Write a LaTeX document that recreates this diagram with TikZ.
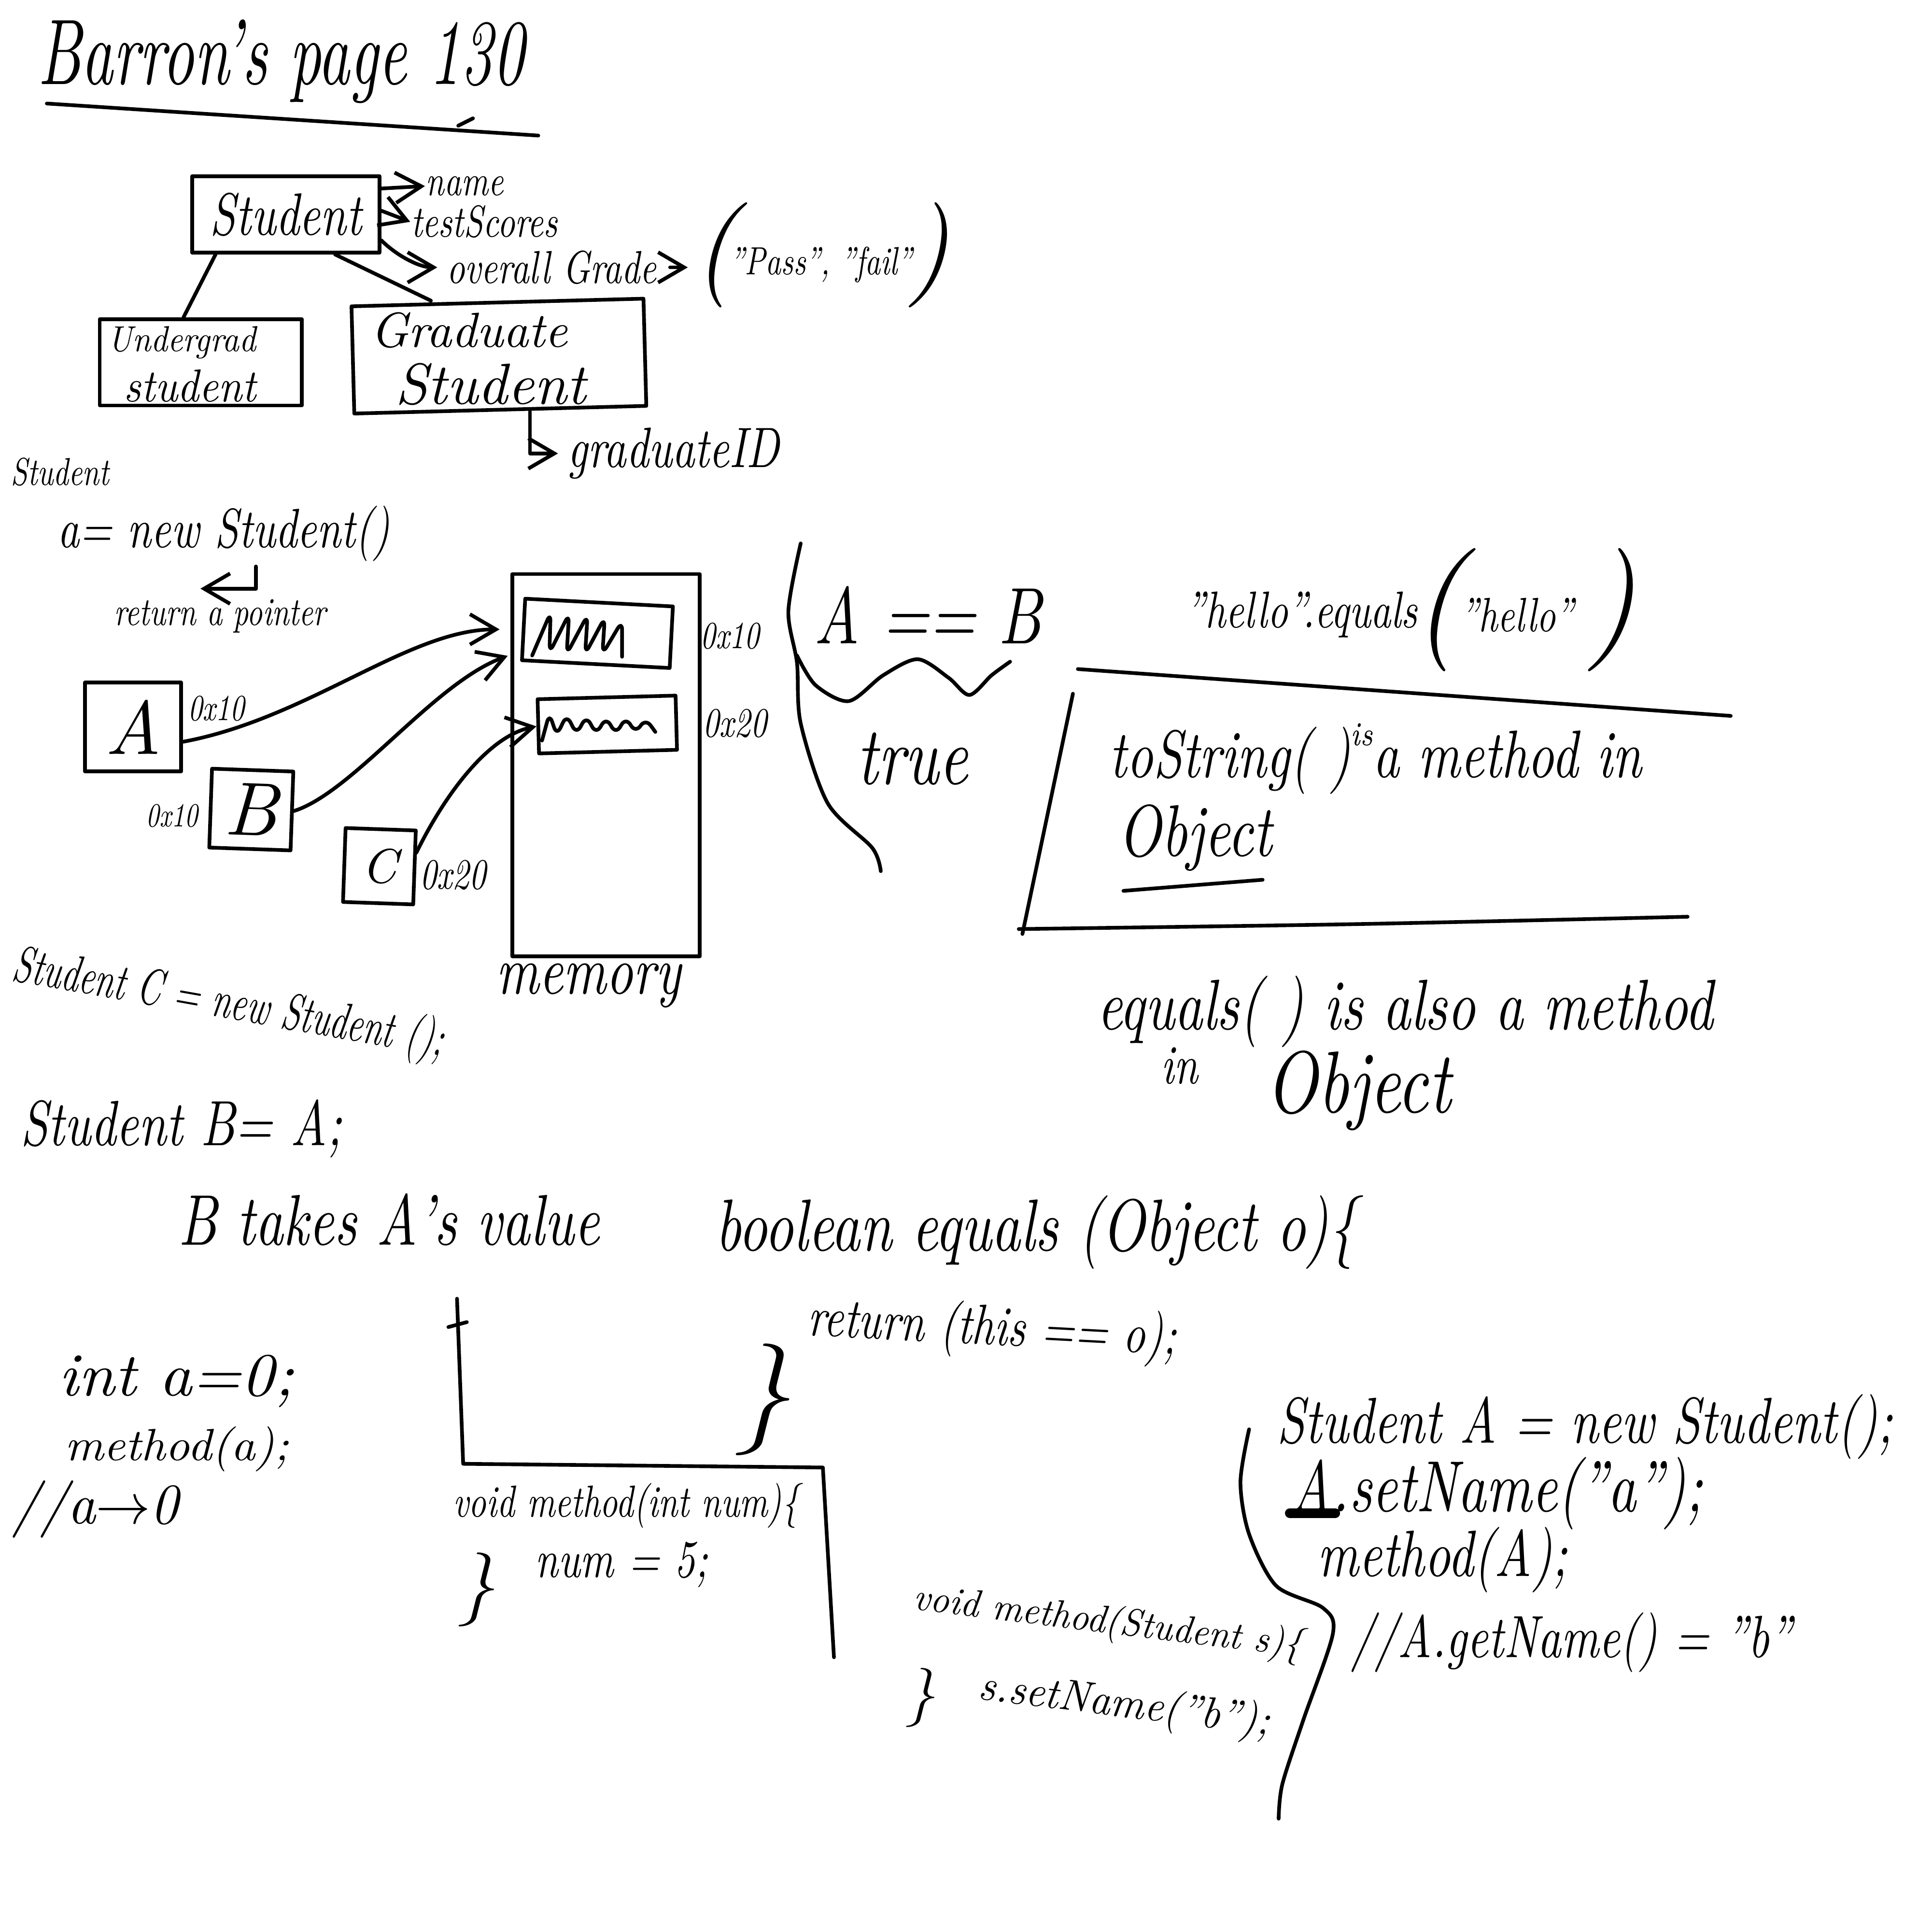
\documentclass[tikz,border=0pt]{standalone}
\usepackage{fontspec}
\usepackage{graphicx}
\usetikzlibrary{arrows.meta}
\newlength\pxu
\setlength\pxu{0.01cm}
\newcommand{\hwW}[3][1.3]{\resizebox{#2\pxu}{!}{\scalebox{1}[#1]{#3}}}
\newcommand{\hwH}[2]{\resizebox{!}{#1\pxu}{#2}}
\begin{document}
\begin{tikzpicture}[x=0.01cm,y=-0.01cm,
  ink/.style={line width=0.85pt,line cap=round,line join=round},
  hbox/.style={draw,ink,inner sep=0pt,rectangle,font=\itshape},
  txt/.style={inner sep=0pt,anchor=west,font=\itshape},
  ctxt/.style={inner sep=0pt,font=\itshape},
  arr/.style={ink,-{Straight Barb[length=6pt,width=7pt]}}]
\fill[white] (0,0) rectangle (1568,1568);
\useasboundingbox (0,0) rectangle (1568,1568);

% title
\node[txt] (title) at (30,50) {\hwW[1.5]{395}{Barron's page 130}};
\draw[ink] (38,84) -- (437,110);
\draw[ink] (372,102) -- (384,96);

% class hierarchy
\node[hbox,minimum width=1.52cm,minimum height=0.62cm] (st) at (232,174) {\hwW{123}{Student}};
\node[hbox,minimum width=1.64cm,minimum height=0.70cm] (ug) at (163,294) {};
\node[txt] (ug1) at (87,278) {\hwW[1.1]{120}{Undergrad}};
\node[txt] (ug2) at (100,313) {\hwW[1.1]{107}{student}};
\node[hbox,minimum width=2.37cm,minimum height=0.87cm,rotate=1.5] (gr) at (405,289) {};
\node[txt] (gr1) at (300,268) {\hwW[1.0]{160}{Graduate}};
\node[txt] (gr2) at (320,312) {\hwW[1.0]{155}{Student}};
\draw[ink] ([xshift=-0.57cm]st.south) -- ([xshift=-0.14cm]ug.north);
\draw[ink] ([xshift=0.40cm]st.south) -- ([xshift=-0.54cm]gr.north);

\node[txt] (name) at (345,151) {\hwW{63}{name}};
\node[txt] (ts) at (333,180) {\hwW{119}{testScores}};
\node[txt] (og) at (362,217) {\hwW{170}{overall Grade}};
\node[ctxt] (pl) at (580,207) {\hwH{64}{(}};
\node[txt] (pf) at (592,215) {\hwW{148}{"Pass", "fail"}};
\node[ctxt] (pr) at (754,207) {\hwH{64}{)}};
\draw[arr] ([yshift=0.21cm]st.east) -- (name.west);
\draw[arr] ([yshift=0.03cm]st.east) -- (ts.west);
\draw[arr] ([yshift=-0.21cm]st.east) .. controls +(12,12) and +(-15,0) .. ([xshift=-2pt]og.west);
\draw[arr] ([xshift=3pt]og.east) -- ([xshift=-1pt]og.east -| pl.west);

\node[txt] (gid) at (460,368) {\hwW{172}{graduateID}};
\draw[arr] ([xshift=0.24cm]gr.south) |- ([xshift=-2pt]gid.west);

% Student a = new Student()
\node[txt] (stsmall) at (8,383) {\hwW{80}{Student}};
\node[txt] (anew) at (46,433) {\hwW{270}{a= new Student()}};
\node[txt] (ret) at (92,500) {\hwW{172}{return a pointer}};
\draw[arr] ([xshift=0.26cm,yshift=-1pt]anew.south) -- ++(0,18) -- ++(-45,0);

% memory
\node[hbox,minimum width=1.52cm,minimum height=3.10cm] (mem) at (492,621) {};
\node[txt] (memlbl) at (402,800) {\hwW{150}{memory}};
\node[hbox,minimum width=1.20cm,minimum height=0.50cm,rotate=-3] (m1) at (485,514) {};
\node[hbox,minimum width=1.12cm,minimum height=0.44cm,rotate=1.5] (m2) at (493,588) {};
\draw[ink,rounded corners=2pt] (432,532) -- (447,497) -- (446,530) -- (462,498) -- (460,531) -- (477,499) -- (475,531) -- (491,501) -- (489,531) -- (505,504) -- (505,533);
\draw[ink,rounded corners=2pt] (440,601) -- (446,579) -- (452,597) -- (460,580) -- (468,596) -- (476,581) -- (484,596) -- (492,582) -- (500,596) -- (508,582) -- (516,595) -- (524,583) -- (532,594);
\node[txt] (h10) at (568,516) {\hwW{48}{0x10}};
\node[txt] (h20) at (570,587) {\hwW{52}{0x20}};

% variables
\node[hbox,minimum width=0.78cm,minimum height=0.72cm] (A) at (108,590) {\hwH{44}{A}};
\node[txt] (a10) at (152,575) {\hwW{46}{0x10}};
\node[hbox,minimum width=0.66cm,minimum height=0.64cm,rotate=-2] (B) at (204,657) {\hwH{42}{B}};
\node[txt] (b10) at (118,662) {\hwW{42}{0x10}};
\node[hbox,minimum width=0.57cm,minimum height=0.60cm,rotate=-2] (C) at (308,703) {\hwH{28}{C}};
\node[txt] (c20) at (340,710) {\hwW{54}{0x20}};
\draw[arr] ([yshift=-0.12cm]A.east) .. controls +(102,-19) and +(-74,0) .. ([xshift=-0.18cm]m1.west);
\draw[arr] (B.east) .. controls +(48,-15) and +(-60,22) .. ([xshift=-0.1cm,yshift=0.05cm]m1.south west);
\draw[arr] ([yshift=0.12cm]C.east) .. controls +(22,-45) and +(-40,8) .. (m2.west);

\node[txt,rotate=-10] (cnew) at (10,785) {\hwW[1.5]{355}{Student C = new Student ();}};

% A == B
\draw[ink] plot[smooth] coordinates {(650,441) (640,496) (647,538) (650,587) (672,652) (708,688) (715,707)};
\node[txt] (aeqb) at (660,499) {\hwW{185}{A == B}};
\draw[ink] plot[smooth] coordinates {(647,532) (662,556) (689,569) (717,548) (745,535) (770,550) (787,564) (805,548) (820,537)};
\node[txt] (true) at (695,616) {\hwW{90}{true}};

% hello equals
\node[txt] (h1) at (962,499) {\hwW{188}{"hello".equals}};
\node[ctxt] (hp1) at (1167,495) {\hwH{75}{(}};
\node[txt] (h2) at (1185,499) {\hwW{92}{"hello"}};
\node[ctxt] (hp2) at (1308,495) {\hwH{75}{)}};

% toString box
\draw[ink] (875,543) -- (1405,581);
\draw[ink] (871,563) -- (830,758);
\draw[ink] plot[smooth] coordinates {(827,754) (1100,750) (1370,744)};
\node[txt] (tostr) at (900,616) {\hwW{432}{toString( )\raisebox{1.1ex}{\tiny is}a method in}};
\node[txt] (obj1) at (907,680) {\hwW{125}{Object}};
\draw[ink] (912,723) -- (1025,714);

\node[txt] (eqm) at (890,821) {\hwW{500}{equals( ) is also a method}};
\node[txt] (in2) at (942,865) {\hwW{30}{in}};
\node[txt] (obj2) at (1027,885) {\hwW{150}{Object}};

% Student B = A
\node[txt] (sba) at (16,916) {\hwW{261}{Student B= A;}};
\node[txt] (btakes) at (144,990) {\hwW{342}{B takes A's value}};

% boolean equals
\node[txt] (beq) at (580,1000) {\hwW{521}{boolean equals (Object o)\{}};
\node[txt,rotate=-3] (ret2) at (655,1072) {\hwW{300}{return (this == o);}};
\node[ctxt] (br1) at (619,1136) {\hwH{68}{\}}};

% int a
\node[txt] (inta) at (47,1121) {\hwW[0.95]{191}{int a=0;}};
\node[txt] (metha) at (52,1176) {\hwW[0.95]{182}{method(a);}};
\node[txt] (cmta) at (9,1225) {\hwW[1.05]{135}{//a$\rightarrow$0}};

% L frame and void method(int num)
\draw[ink] (371,1054) -- (376,1188) -- (668,1191) -- (677,1345);
\draw[ink] (364,1077) -- (379,1073);
\node[txt] (vm1) at (367,1222) {\hwW{281}{void method(int num)\{}};
\node[txt] (num5) at (434,1270) {\hwW{140}{num = 5;}};
\node[ctxt] (br2) at (387,1290) {\hwH{45}{\}}};

% void method(Student s)
\node[txt,rotate=-7] (vm2) at (741,1298) {\hwW[1.05]{318}{void method(Student s)\{}};
\node[txt,rotate=-7] (ssn) at (794,1370) {\hwW[1.05]{238}{s.setName("b");}};
\node[ctxt] (br3) at (747,1378) {\hwH{36}{\}}};

% right bracket
\draw[ink] plot[smooth] coordinates {(1014,1160) (1007,1203) (1014,1245) (1036,1287) (1074,1305) (1082,1326) (1058,1396) (1041,1448) (1038,1476)};

\node[txt] (sanew) at (1036,1158) {\hwW{500}{Student A = new Student();}};
\node[txt] (setA) at (1047,1212) {\hwW{335}{A.setName("a");}};
\draw[line width=2.2pt,line cap=round] ([yshift=-0.16cm]setA.west) -- ++(37,0);
\node[txt] (methA) at (1069,1266) {\hwW{203}{method(A);}};
\node[txt] (getn) at (1096,1333) {\hwW{358}{//A.getName() = "b"}};
\end{tikzpicture}
\end{document}
